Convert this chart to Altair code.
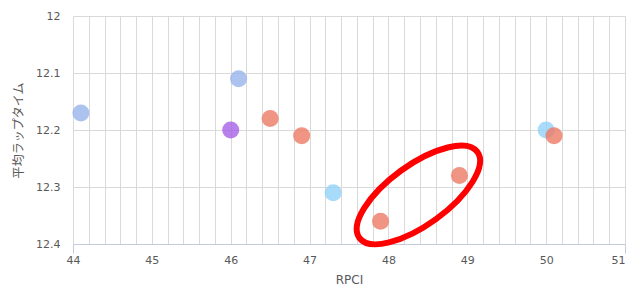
import altair as alt
import pandas as pd
import numpy as np

# data
rpci = [44.1, 46.1, 47.3, 50.0, 46.0, 46.5, 46.9, 47.9, 48.9, 50.1]
lap = [12.17, 12.11, 12.31, 12.20, 12.20, 12.18, 12.21, 12.36, 12.28, 12.21]
group = ["A", "A", "C", "C", "B", "D", "D", "D", "D", "D"]
group_names = ["A", "B", "C", "D"]
group_colors = ["#97B4EC", "#A560E6", "#92D1F9", "#EC7965"]

y_ticks = [12, 12.1, 12.2, 12.3, 12.4]
x_ticks = [float(round(v, 1)) for v in np.arange(44, 51.001, 0.2)]

# annotation ellipse centre (data coordinates)
ell_x = [48.38]
ell_y = [12.314]

df = pd.DataFrame({"RPCI": rpci, "lap": lap, "group": group})
df_ell = pd.DataFrame({"RPCI": ell_x, "lap": ell_y})

FONT = "DejaVu Sans"
TXT = "#595959"
GRID = "#D9D9D9"
DOMAIN = "#C3CCDD"

xscale = alt.Scale(domain=[44, 51], nice=False, zero=False)
yscale = alt.Scale(domain=[12, 12.4], nice=False, zero=False, reverse=True)

xaxis = alt.Axis(
    title="RPCI",
    values=x_ticks,
    tickCount=100,
    labelExpr="abs(datum.value - round(datum.value)) < 0.01 ? format(datum.value, 'd') : ''",
    labelAlign=alt.ExprRef(expr="datum.value > 50.99 ? 'right' : 'center'"),
    labelOverlap=False,
    labelFont=FONT, labelFontSize=11, labelColor=TXT, labelPadding=1,
    titleFont=FONT, titleFontSize=12, titleColor=TXT, titleFontWeight="normal",
    titlePadding=9,
    grid=True, gridColor=GRID, gridWidth=1,
    domainColor=DOMAIN, domainWidth=1,
    ticks=True, tickSize=9, tickColor=DOMAIN,
    tickOpacity=alt.ExprRef(expr="(datum.value < 44.01 || datum.value > 50.99) ? 1 : 0"),
)
yaxis = alt.Axis(
    title="平均ラップタイム",
    values=y_ticks,
    tickCount=20,
    format="~g",
    labelFont=FONT, labelFontSize=11, labelColor=TXT, labelPadding=13,
    titleFont="Noto Sans CJK JP", titleFontSize=12, titleColor=TXT, titleFontWeight="normal",
    titlePadding=10,
    grid=True, gridColor=GRID, gridWidth=1,
    domain=False, ticks=False,
)

points = alt.Chart(df).mark_circle(size=290, opacity=0.8).encode(
    x=alt.X("RPCI:Q", scale=xscale, axis=xaxis),
    y=alt.Y("lap:Q", scale=yscale, axis=yaxis),
    color=alt.Color("group:N", scale=alt.Scale(domain=group_names, range=group_colors), legend=None),
)

k = 0.5523
r = 0.41
ellipse_path = (
    f"M 1 0 C 1 {k*r:.4f} {k} {r} 0 {r} "
    f"C {-k} {r} -1 {k*r:.4f} -1 0 "
    f"C -1 {-k*r:.4f} {-k} {-r} 0 {-r} "
    f"C {k} {-r} 1 {-k*r:.4f} 1 0 Z"
)

ellipse = alt.Chart(df_ell).mark_point(
    shape=ellipse_path, filled=False, stroke="#FF0000", strokeWidth=6,
    size=21316, angle=324, opacity=1,
).encode(
    x=alt.X("RPCI:Q", scale=xscale),
    y=alt.Y("lap:Q", scale=yscale),
)

chart = alt.layer(points, ellipse).properties(
    width=552, height=228,
    autosize="none",
    padding={"left": 73, "top": 16, "right": 6, "bottom": 48},
    background="white",
).configure_view(strokeWidth=0)

chart.save("out.html", embed_options={"renderer": "svg", "actions": False})
